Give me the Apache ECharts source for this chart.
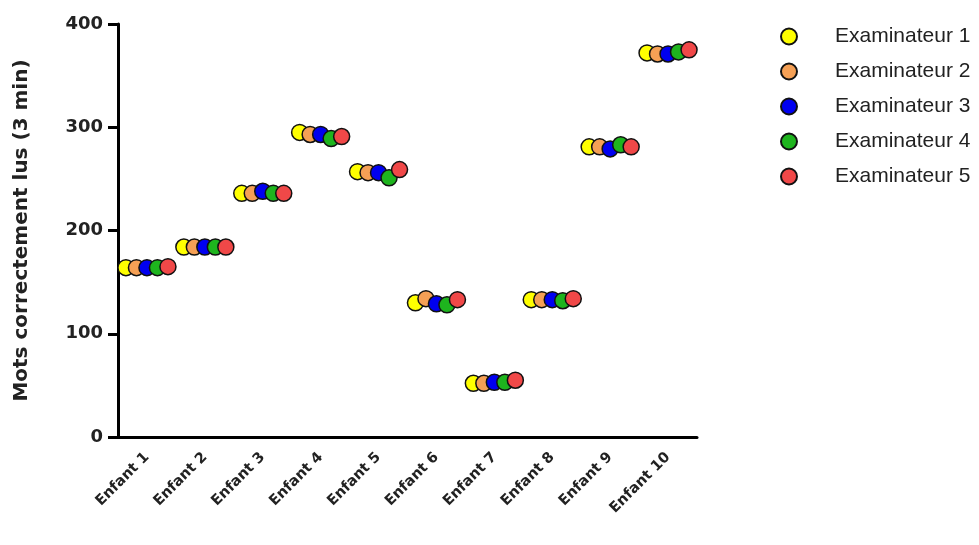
<!DOCTYPE html>
<html>
<head>
<meta charset="utf-8">
<script src="https://cdn.jsdelivr.net/npm/echarts@6/dist/echarts.min.js"></script>
<style>html,body{margin:0;padding:0;background:#fff}#c{width:979px;height:545px}</style>
</head>
<body>
<div id="c"></div>
<script>
const categories = ['Enfant 1','Enfant 2','Enfant 3','Enfant 4','Enfant 5','Enfant 6','Enfant 7','Enfant 8','Enfant 9','Enfant 10'];
const seriesNames = ['Examinateur 1','Examinateur 2','Examinateur 3','Examinateur 4','Examinateur 5'];
const exam1 = [164, 184, 236, 295, 257, 130, 52, 133, 281, 372];
const exam2 = [164, 184, 236, 293, 256, 134, 52, 133, 281, 371];
const exam3 = [164, 184, 238, 293, 256, 129, 53, 133, 279, 371];
const exam4 = [164, 184, 236, 289, 251, 128, 53, 132, 283, 373];
const exam5 = [165, 184, 236, 291, 259, 133, 55, 134, 281, 375];
const yTicks = [0, 100, 200, 300, 400];

const allData = [exam1, exam2, exam3, exam4, exam5];
const colors = ['#FFFF00', '#F5A055', '#0000F0', '#1EB41E', '#F04848'];
const offsets = [-21, -10.5, 0, 10.5, 21];

const chart = echarts.init(document.getElementById('c'), null, {renderer: 'canvas'});
const boldFont = '"DejaVu Sans", Arial, sans-serif';
const legFont = '"Liberation Sans", Arial, sans-serif';
chart.setOption({
  animation: false,
  backgroundColor: '#fff',
  grid: {left: 118, right: 282, top: 24, bottom: 108, containLabel: false},
  legend: {
    orient: 'vertical',
    left: 775,
    top: 21,
    itemWidth: 16,
    itemHeight: 16,
    itemGap: 14,
    icon: 'circle',
    data: seriesNames,
    textStyle: {fontFamily: legFont, fontSize: 21, lineHeight: 20, color: '#222', padding: [0, 0, 0, 33]}
  },
  xAxis: {
    type: 'category',
    data: categories,
    boundaryGap: true,
    axisLine: {lineStyle: {color: '#000', width: 3}},
    axisTick: {alignWithLabel: true, length: 10, lineStyle: {color: '#000', width: 3}},
    axisLabel: {rotate: 45, fontFamily: boldFont, fontWeight: 'bold', fontSize: 14.5, color: '#222', margin: 18, interval: 0}
  },
  yAxis: {
    type: 'value',
    min: yTicks[0],
    max: yTicks[yTicks.length - 1],
    interval: 100,
    name: 'Mots correctement lus (3 min)',
    nameLocation: 'middle',
    nameGap: 86,
    nameTextStyle: {fontFamily: boldFont, fontWeight: 'bold', fontSize: 20, color: '#222'},
    splitLine: {show: false},
    axisLine: {show: true, lineStyle: {color: '#000', width: 3}},
    axisTick: {show: true, length: 10, lineStyle: {color: '#000', width: 3}},
    axisLabel: {fontFamily: boldFont, fontWeight: 'bold', fontSize: 18, color: '#222', margin: 15}
  },
  series: seriesNames.map((name, i) => ({
    name: name,
    type: 'scatter',
    data: allData[i],
    symbol: 'circle',
    symbolSize: 16,
    symbolOffset: [offsets[i], 0],
    itemStyle: {color: colors[i], borderColor: '#111', borderWidth: 1.5, opacity: 1},
    z: 2 + i
  }))
});
</script>
</body>
</html>
